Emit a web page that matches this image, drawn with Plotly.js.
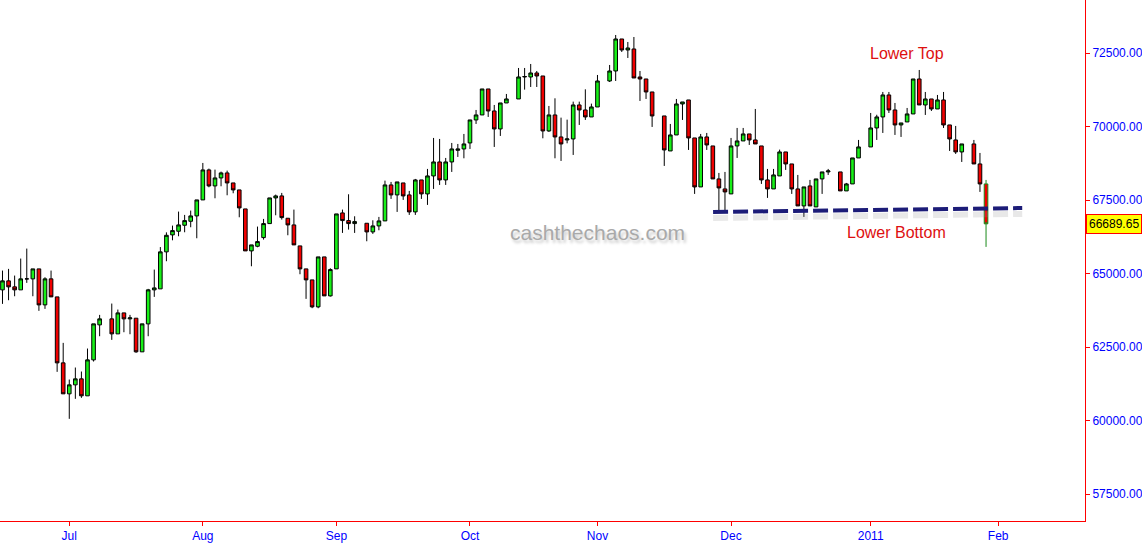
<!DOCTYPE html>
<html>
<head>
<meta charset="utf-8">
<script src="https://cdn.plot.ly/plotly-3.0.1.min.js"></script>
<style>
  html, body { margin: 0; padding: 0; background: #fff; }
  #chart { width: 1142px; height: 552px; }
</style>
</head>
<body>
<div id="chart"></div>
<script>
// ---- Data (Ibovespa daily, Jun 16 2010 – Jan 28 2011) ----
const firstDay = '2010-06-16';
const lastDay = '2011-01-28';
const holidays = ['2010-07-09', '2010-09-07', '2010-10-12', '2010-11-02', '2010-11-15',
                  '2010-12-24', '2010-12-31', '2011-01-25'];

const openVals = [
  64444,64750,64546,64444,64818,64818,65157,63933,64818,64205,
  61961,60907,61213,61417,60839,62063,63253,
  63457,62947,63661,63457,63480,62336,63287,64444,64478,65736,
  66314,66437,66641,66777,66959,67503,68523,67979,68251,68421,
  68081,67843,67197,65769,65927,66222,66698,67571,67639,66880,
  66653,65939,65157,64783,63865,65565,64239,65157,67061,66800,66698,
  66709,66415,66619,66789,68013,67673,68081,67673,67095,68183,
  67707,68319,68795,68183,68795,69191,69237,69441,70223,70393,
  71277,70529,69917,70801,
  70937,71685,71685,71821,71719,69849,70393,69645,69543,69577,
  70733,70563,70325,70665,
  71549,71889,72977,72603,72637,71685,71617,71175,
  70359,69169,69713,70767,70903,69611,67945,69645,69339,68217,
  67877,67707,69339,69509,69747,69543,69339,68183,67877,68319,
  69135,68727,67877,67299,67979,67265,68217,68455,
  68455,67809,68047,68931,
  69305,69951,70325,71073,70563,70053,70155,70427,71617,70733,
  70937,70597,70903,70053,69543,69135,
  69407,68727,68047
];
const highVals = [
  65100,65157,64930,65508,65848,65157,65157,64873,65100,64205,
  62641,61394,61802,61666,62448,63287,63593,
  63978,63774,63661,63593,63480,63287,64478,65134,65900,66400,
  66630,67106,66993,67140,67503,68761,68568,68534,68466,68500,
  68081,67843,67197,65973,66596,66857,67571,67684,67741,66880,
  67174,65939,65157,64783,65565,65565,65179,67027,67174,67695,66947,
  66709,66811,66925,68160,68115,68115,68081,67809,68217,68183,
  68557,69611,69577,68931,69441,69407,69747,70223,70563,71277,
  71277,70733,70801,71107,
  71991,71991,72127,71889,71719,70699,70959,70302,70234,70846,
  70846,71265,70778,71753,
  72093,73113,72977,72875,73045,71889,71617,71175,
  70359,70087,70937,70835,70903,69611,69747,69781,69339,68421,
  68455,69611,69951,69951,69747,70597,69339,68557,68557,69214,
  69135,68727,68353,67945,68183,68217,68455,68557,
  68455,68081,68931,69543,
  70461,70400,71175,71175,70801,70121,70631,71617,71923,71175,
  70937,71073,71175,70053,70019,69407,
  69543,69101,68183
];
const lowVals = [
  63967,64091,64227,64444,64682,64227,63730,63797,64205,61655,
  60907,60057,60737,60771,60839,62006,62867,
  62743,62947,63003,62935,62302,62336,62867,64205,64478,65418,
  66130,66267,66403,66573,66199,67503,67933,67559,67967,67661,
  67729,66913,65769,65247,65893,66154,66698,66981,66834,66301,
  65973,64975,64137,63820,63819,64239,64216,65157,66381,66494,66381,
  66097,66347,66471,66789,67537,67095,67503,66993,66993,67537,
  67333,67877,68013,68013,68455,68965,68919,69237,70087,70393,
  70325,69305,69679,70801,
  70937,71254,71345,71345,69599,69815,68919,68829,69429,69033,
  70053,70223,70325,70665,
  71515,71549,72535,72331,71651,70869,70937,69985,
  68659,69169,69713,70223,69203,67707,67945,69203,68217,67150,
  67095,67707,68931,69509,69373,69407,68047,67571,67877,68319,
  68523,67707,67299,66925,67299,67265,67707,68353,
  67809,67809,68047,68931,
  69305,69543,69781,70461,69713,69645,70155,70427,70733,70393,
  70529,70597,69951,69169,69067,68795,
  68727,67775,65905
];
const closeVals = [
  64750,64546,64444,64818,64818,65157,63933,64818,64205,61961,
  60907,61213,61417,60839,62063,63287,63457,
  62947,63661,63457,63490,62336,63287,64444,64510,65736,66300,
  66460,66653,66800,66959,67503,68523,67979,68251,68421,68081,
  67843,67231,65769,65973,66086,66698,67571,67639,66902,66653,
  65973,65157,64783,63865,65565,64239,65134,67027,66800,66698,66766,
  66415,66619,66789,68013,67673,68115,67639,67095,68183,67707,
  68319,68795,68183,68795,69237,69237,69407,70223,70393,71277,
  70529,69917,70801,70937,
  71685,71700,71821,71719,69849,70393,69645,69407,69577,70733,
  70563,70325,70665,71549,
  71889,72977,72603,72671,71651,71617,71175,70359,
  69203,69713,70767,70835,69611,67945,69645,69373,68217,67911,
  67775,69339,69509,69747,69543,69407,68183,67877,68353,69135,
  68727,67877,67299,67945,67299,68217,68455,68489,
  67809,68047,68931,69305,
  69951,70325,71073,70563,70053,70121,70427,71617,70733,70937,
  70597,70903,70053,69577,69135,69407,
  68727,68047,66689.65
];

const tickDates = ['2010-07-01', '2010-08-02', '2010-09-01', '2010-10-01', '2010-11-01',
                   '2010-12-01', '2011-01-03', '2011-02-01'];
const tickLabels = ['Jul', 'Aug', 'Sep', 'Oct', 'Nov', 'Dec', '2011', 'Feb'];
const priceTicks = [57500, 60000, 62500, 65000, 67500, 70000, 72500];

const supportLineX = ['2010-11-26 01:00', '2011-02-04 23:00'];
const supportLineY = [67091, 67227];

// ---- Trading-day calendar ----
function tradingDates(start, end, skip) {
  const out = [];
  const d = new Date(start + 'T00:00:00Z');
  const e = new Date(end + 'T00:00:00Z');
  while (d <= e) {
    const wd = d.getUTCDay();
    const s = d.toISOString().slice(0, 10);
    if (wd !== 0 && wd !== 6 && skip.indexOf(s) < 0) out.push(s);
    d.setUTCDate(d.getUTCDate() + 1);
  }
  return out;
}
const dates = tradingDates(firstDay, lastDay, holidays);

const FONT = 'Liberation Sans, Arial, sans-serif';
const n = dates.length;

const mainTrace = {
  type: 'candlestick',
  x: dates.slice(0, n - 1),
  open: openVals.slice(0, n - 1),
  high: highVals.slice(0, n - 1),
  low: lowVals.slice(0, n - 1),
  close: closeVals.slice(0, n - 1),
  increasing: { line: { color: '#000000', width: 1 }, fillcolor: '#18f018' },
  decreasing: { line: { color: '#000000', width: 1 }, fillcolor: '#f00000' },
  whiskerwidth: 0,
  hoverinfo: 'skip',
  showlegend: false
};
const lastTrace = {
  type: 'candlestick',
  x: dates.slice(n - 1),
  open: openVals.slice(n - 1),
  high: highVals.slice(n - 1),
  low: lowVals.slice(n - 1),
  close: closeVals.slice(n - 1),
  increasing: { line: { color: '#1a8a1a', width: 1 }, fillcolor: '#18f018' },
  decreasing: { line: { color: '#1a8a1a', width: 1 }, fillcolor: '#f00000' },
  whiskerwidth: 0,
  hoverinfo: 'skip',
  showlegend: false
};

const lastClose = closeVals[closeVals.length - 1];

const layout = {
  width: 1142,
  height: 552,
  margin: { l: 0, r: 57, t: 0, b: 31, pad: 0 },
  paper_bgcolor: '#ffffff',
  plot_bgcolor: '#ffffff',
  showlegend: false,
  boxgap: 0.15,
  font: { family: FONT, size: 12, color: '#0000ff' },
  xaxis: {
    type: 'date',
    range: ['2010-06-15 14:10', '2011-02-21 07:12'],
    rangebreaks: [{ bounds: ['sat', 'mon'] }],
    rangeslider: { visible: false },
    tickmode: 'array',
    tickvals: tickDates,
    ticktext: tickLabels,
    ticks: 'outside',
    ticklen: 4,
    tickcolor: '#ff0000',
    tickfont: { family: FONT, size: 12, color: '#0000ff' },
    showline: true,
    linecolor: '#ff0000',
    linewidth: 1,
    showgrid: false,
    zeroline: false,
    fixedrange: true,
    automargin: false
  },
  yaxis: {
    side: 'right',
    range: [56582, 74303],
    tickmode: 'array',
    tickvals: priceTicks,
    tickformat: '.2f',
    ticks: 'outside',
    ticklen: 4,
    tickcolor: '#ff0000',
    tickfont: { family: FONT, size: 12, color: '#0000ff' },
    showline: true,
    linecolor: '#ff0000',
    linewidth: 1,
    showgrid: false,
    zeroline: false,
    fixedrange: true,
    automargin: false
  },
  shapes: [
    {
      type: 'line', xref: 'x', yref: 'y',
      x0: supportLineX[0], x1: supportLineX[1],
      y0: supportLineY[0] - 200, y1: supportLineY[1] - 200,
      line: { color: 'rgba(150,150,150,0.22)', width: 6, dash: '15px,5px' }
    },
    {
      type: 'line', xref: 'x', yref: 'y',
      x0: supportLineX[0], x1: supportLineX[1],
      y0: supportLineY[0], y1: supportLineY[1],
      line: { color: '#1c1c78', width: 4, dash: '15px,5px' }
    }
  ],
  annotations: [
    {
      xref: 'paper', yref: 'paper', x: 0.551, y: 0.5547,
      xanchor: 'center', yanchor: 'middle',
      text: 'cashthechaos.com', showarrow: false,
      font: { family: FONT, size: 21, color: '#a9a9a9', shadow: '2px 3px 3px #c8c8c8' }
    },
    {
      xref: 'paper', yref: 'paper', x: 0.836, y: 0.898,
      xanchor: 'center', yanchor: 'middle',
      text: 'Lower Top', showarrow: false,
      font: { family: FONT, size: 16, color: '#dd1010' }
    },
    {
      xref: 'paper', yref: 'paper', x: 0.8267, y: 0.5547,
      xanchor: 'center', yanchor: 'middle',
      text: 'Lower Bottom', showarrow: false,
      font: { family: FONT, size: 16, color: '#dd1010' }
    },
    {
      xref: 'paper', yref: 'y', x: 1, y: lastClose,
      xanchor: 'left', yanchor: 'middle', xshift: 1,
      text: lastClose.toFixed(2), showarrow: false,
      bgcolor: '#ffff00', bordercolor: '#ff0000', borderwidth: 1, borderpad: 2,
      font: { family: FONT, size: 12, color: '#000000' }
    }
  ]
};

Plotly.newPlot('chart', [mainTrace, lastTrace], layout, { staticPlot: true, displayModeBar: false });
</script>
</body>
</html>
